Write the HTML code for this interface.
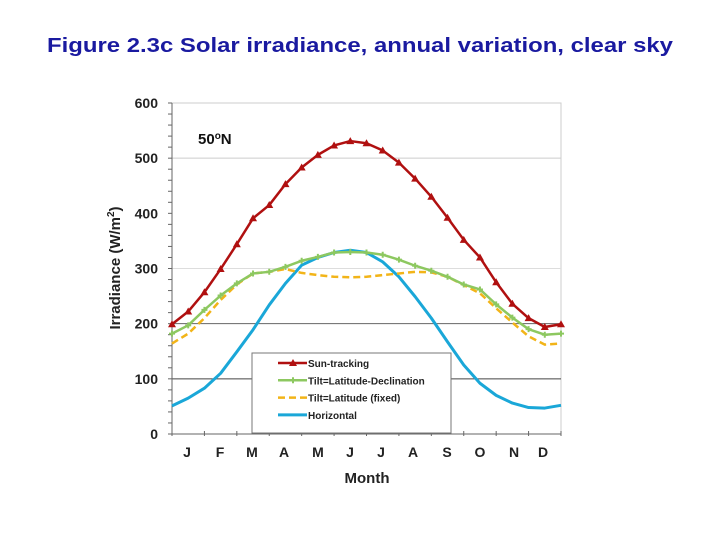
<!DOCTYPE html>
<html><head><meta charset="utf-8"><style>
body{margin:0;background:#fff;width:720px;height:540px;overflow:hidden}
svg text{font-family:"Liberation Sans",sans-serif}
</style></head><body>
<svg width="720" height="540">
<text x="47" y="52" font-size="20" font-weight="bold" fill="#1a1aa0" textLength="626" lengthAdjust="spacingAndGlyphs">Figure 2.3c Solar irradiance, annual variation, clear sky</text>
<g id="grid"></g>
<g id="axes"></g>
<g id="series"></g>
<text x="198" y="144" font-size="15" font-weight="bold" fill="#111">50<tspan font-size="10" dy="-5">o</tspan><tspan dy="5">N</tspan></text>
<text transform="translate(120,268) rotate(-90)" text-anchor="middle" font-size="15" font-weight="bold" fill="#222">Irradiance (W/m<tspan font-size="10" dy="-6">2</tspan><tspan dy="6">)</tspan></text>
<text x="367" y="483" text-anchor="middle" font-size="15" font-weight="bold" fill="#222">Month</text>
<g>
<rect x="252" y="353" width="199" height="80" fill="#fff" stroke="#777" stroke-width="1"/>
<g id="legend"></g>
</g>
</svg>
<script>
const months=["J","F","M","A","M","J","J","A","S","O","N","D"];
const monthLabelX=[187,220,252,284,318,350,381,413,447,480,514,543];
const yTicks=[0,100,200,300,400,500,600];
const sunTracking=[199,222,257,299,344,391,415,453,483,506,523,531,527,514,492,463,430,392,352,320,275,236,210,194,199];
const tiltLatDecl=[182,197,225,251,273,291,294,303,314,321,329,330,329,325,316,305,296,285,271,262,235,211,190,180,182];
const tiltLatFixed=[164,182,210,243,271,291,294,299,292,288,285,284,285,288,291,294,293,285,270,255,228,202,177,162,164];
const horizontal=[51,65,83,110,149,189,234,273,306,320,329,333,329,312,285,249,210,167,125,92,70,56,48,47,52];
const NS="http://www.w3.org/2000/svg";
const X0=172,X1=561,Y0=434,Y1=103;
const xs=i=>X0+(X1-X0)*i/(sunTracking.length-1);
const ys=v=>Y0-(v/600)*(Y0-Y1);
function mk(tag,at,parent){const e=document.createElementNS(NS,tag);for(const k in at)e.setAttribute(k,at[k]);parent.appendChild(e);return e;}
const grid=document.getElementById('grid'),axes=document.getElementById('axes'),ser=document.getElementById('series'),leg=document.getElementById('legend');
mk('rect',{x:X0,y:Y1,width:X1-X0,height:Y0-Y1,fill:'none',stroke:'#ccc'},grid);
[[100,'#444'],[200,'#666'],[300,'#ddd'],[500,'#ccc']].forEach(([v,c])=>{
 const l=mk('line',{x1:X0,x2:X1,y1:ys(v),y2:ys(v),stroke:c,'stroke-width':1},grid);
 
 
});
mk('line',{x1:X0,x2:X0,y1:Y1,y2:Y0,stroke:'#666'},axes);
mk('line',{x1:X0,x2:X1,y1:Y0,y2:Y0,stroke:'#666'},axes);
for(let v=0;v<=600;v+=20){mk('line',{x1:X0-4,x2:X0,y1:ys(v),y2:ys(v),stroke:'#666'},axes);}
for(let i=0;i<sunTracking.length;i+=2){mk('line',{x1:xs(i),x2:xs(i),y1:Y0-3,y2:Y0+2,stroke:'#666'},axes);}
yTicks.forEach(v=>{const t=mk('text',{x:158,y:ys(v)+5,'text-anchor':'end','font-size':14,'font-weight':'bold',fill:'#222'},axes);t.textContent=v;
 
 });
months.forEach((m,i)=>{const t=mk('text',{x:monthLabelX[i],y:457,'text-anchor':'middle','font-size':14,'font-weight':'bold',fill:'#222'},axes);t.textContent=m;
 
 });
function line(data,color,w,dash,name){
 const p=mk('polyline',{points:data.map((v,i)=>xs(i)+','+ys(v)).join(' '),fill:'none',stroke:color,'stroke-width':w,'stroke-dasharray':dash||'none','stroke-linejoin':'round'},ser);
 
 
}
function tri(x,y,c,g){mk('polygon',{points:`${x},${y-4} ${x-4},${y+3} ${x+4},${y+3}`,fill:c},g);}
function plus(x,y,c,g){mk('path',{d:`M${x-3},${y}H${x+3}M${x},${y-3}V${y+3}`,stroke:c,'stroke-width':2},g);}
line(horizontal,'#1aa7d8',3,null,'series-horizontal');
line(tiltLatFixed,'#f2b418',2.5,'7,4','series-tilt-latitude-fixed');
line(tiltLatDecl,'#8dc860',2.5,null,'series-tilt-latitude-declination');
tiltLatDecl.forEach((v,i)=>plus(xs(i),ys(v),'#8dc860',ser));
line(sunTracking,'#b01010',2.5,null,'series-sun-tracking');
sunTracking.forEach((v,i)=>tri(xs(i),ys(v),'#b01010',ser));
const le=[['Sun-tracking','#b01010',null,'tri'],['Tilt=Latitude-Declination','#8dc860',null,'plus'],['Tilt=Latitude (fixed)','#f2b418','7,4',null],['Horizontal','#1aa7d8',null,null]];
le.forEach((e,k)=>{const y=363+k*17.3;
 mk('line',{x1:278,x2:307,y1:y,y2:y,stroke:e[1],'stroke-width':e[3]===null&&k===3?3:2.5,'stroke-dasharray':e[2]||'none'},leg);
 if(e[3]==='tri')tri(293,y,e[1],leg);if(e[3]==='plus')plus(293,y,e[1],leg);
 const t=mk('text',{x:308,y:y+4,'font-size':10,'font-weight':'bold',fill:'#222'},leg);t.textContent=e[0];
 
 
});
</script>
</body></html>
